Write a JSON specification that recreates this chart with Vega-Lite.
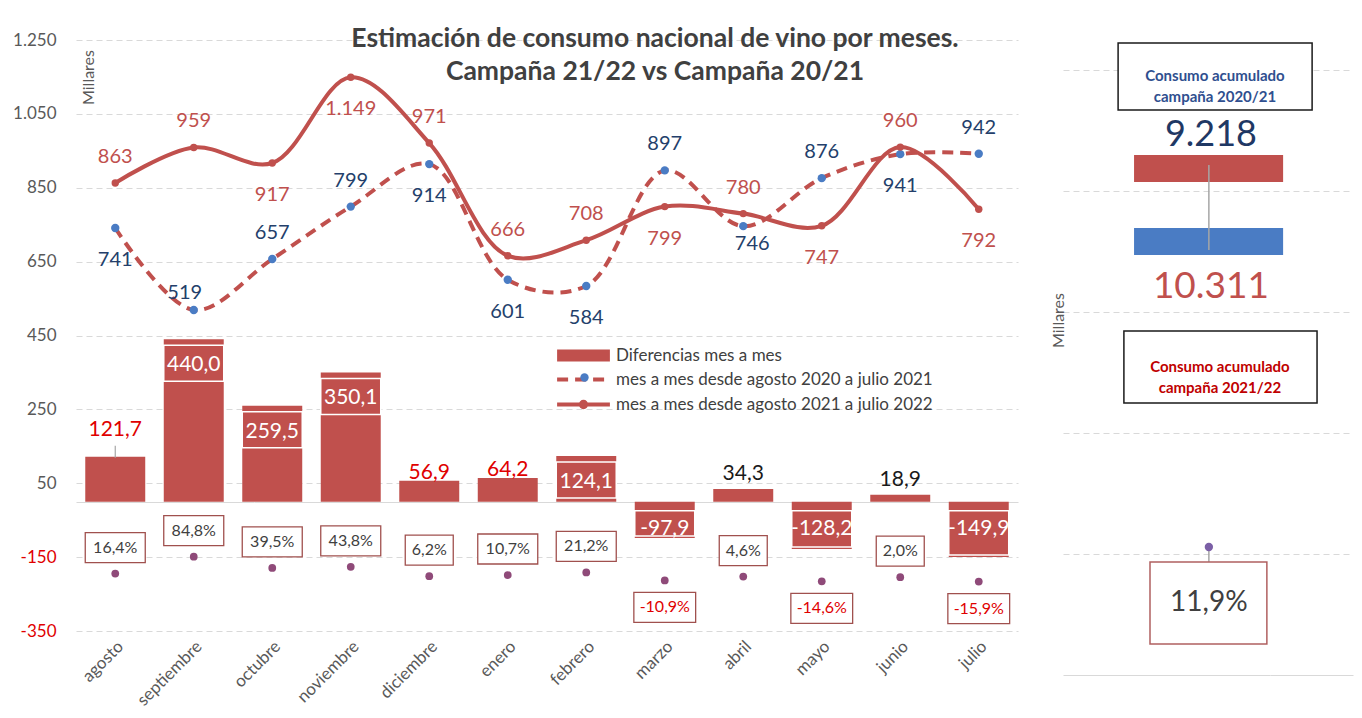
{
  "$schema": "https://vega.github.io/schema/vega-lite/v6.json",
  "background": "white",
  "padding": {"left": 12, "top": 25, "right": 5, "bottom": 5},
  "bounds": "flush",
  "spacing": 45,
  "config": {
    "locale": {"number": {"decimal": ",", "thousands": ".", "grouping": [3], "currency": ["", " €"], "minus": "-"}},
    "font": "Lato",
    "view": {"stroke": null}
  },
  "datasets": {
    "meses": [
      {"mes": "agosto", "c2021": 741, "c2122": 863, "dif": 121.7, "pct": 0.164},
      {"mes": "septiembre", "c2021": 519, "c2122": 959, "dif": 440.0, "pct": 0.848},
      {"mes": "octubre", "c2021": 657, "c2122": 917, "dif": 259.5, "pct": 0.395},
      {"mes": "noviembre", "c2021": 799, "c2122": 1149, "dif": 350.1, "pct": 0.438},
      {"mes": "diciembre", "c2021": 914, "c2122": 971, "dif": 56.9, "pct": 0.062},
      {"mes": "enero", "c2021": 601, "c2122": 666, "dif": 64.2, "pct": 0.107},
      {"mes": "febrero", "c2021": 584, "c2122": 708, "dif": 124.1, "pct": 0.212},
      {"mes": "marzo", "c2021": 897, "c2122": 799, "dif": -97.9, "pct": -0.109},
      {"mes": "abril", "c2021": 746, "c2122": 780, "dif": 34.3, "pct": 0.046},
      {"mes": "mayo", "c2021": 876, "c2122": 747, "dif": -128.2, "pct": -0.146},
      {"mes": "junio", "c2021": 941, "c2122": 960, "dif": 18.9, "pct": 0.020},
      {"mes": "julio", "c2021": 942, "c2122": 792, "dif": -149.9, "pct": -0.159}
    ],
    "totales": [
      {"campana": "2020/21", "total": 9218},
      {"campana": "2021/22", "total": 10311}
    ],
    "variacion": [{"variacion": 0.119}]
  },
  "hconcat": [
    {
      "width": 942,
      "height": 591,
      "title": {
        "text": ["Estimación de consumo nacional de vino por meses.", "Campaña 21/22 vs Campaña 20/21"],
        "font": "Lato", "fontSize": 26.5, "fontWeight": "bold", "color": "#404040",
        "anchor": "middle", "dx": 108, "offset": -54, "lineHeight": 33
      },
      "data": {"name": "meses"},
      "encoding": {
        "x": {
          "field": "mes", "type": "nominal", "sort": null,
          "scale": {"paddingInner": 0.236, "paddingOuter": 0.118},
          "axis": {"title": null, "labelAngle": -45, "labelFontSize": 17, "labelColor": "#595959", "ticks": false, "domain": false, "labelPadding": 7, "grid": false}
        }
      },
      "resolve": {"scale": {"y": "independent"}},
      "layer": [
        {
          "layer": [
            {
              "mark": {"type": "bar", "color": "#c0504d"},
              "encoding": {
                "y": {
                  "field": "dif", "type": "quantitative",
                  "scale": {"domain": [-350, 1250], "nice": false, "zero": false},
                  "axis": {
                    "values": [-350, -150, 0, 50, 250, 450, 650, 850, 1050, 1250],
                    "format": ",d",
                    "labelExpr": "datum.value === 0 ? '' : datum.label",
                    "labelFontSize": 17,
                    "labelColor": {"condition": {"test": "datum.value < 0", "value": "#e00000"}, "value": "#595959"},
                    "labelPadding": 20,
                    "ticks": false, "domain": false,
                    "gridColor": "#d9d9d9",
                    "gridDash": {"condition": {"test": "datum.value === 0", "value": [1, 0]}, "value": [6, 4]},
                    "gridWidth": 1.2,
                    "title": "Millares", "titleFontSize": 16, "titleFontWeight": "normal", "titleColor": "#595959",
                    "titleAngle": -90, "titleX": 12, "titleY": 37, "titleAlign": "center", "titleBaseline": "middle"
                  }
                },
                "color": {
                  "datum": "Diferencias mes a mes",
                  "scale": {"range": ["#c0504d"]},
                  "legend": {
                    "orient": "none", "legendX": 499, "legendY": 307, "title": null, "padding": 0,
                    "symbolSize": 144, "symbolType": "M-4.4,-1H4.4V1H-4.4Z", "symbolStrokeWidth": 0,
                    "labelFontSize": 17, "labelColor": "#404040", "labelOffset": 24, "labelLimit": 400
                  }
                }
              }
            },
            {
              "transform": [{"filter": "indexof(['septiembre','octubre','noviembre','febrero'], datum.mes) >= 0"}],
              "mark": {"type": "bar", "fill": "transparent", "stroke": "white", "strokeWidth": 1.5, "yOffset": 6, "y2Offset": 42},
              "encoding": {
                "y": {"field": "dif", "type": "quantitative"},
                "y2": {"field": "dif"}
              }
            },
            {
              "transform": [{"filter": "datum.dif < 0"}],
              "mark": {"type": "bar", "fill": "transparent", "stroke": "white", "strokeWidth": 1.5, "yOffset": -2, "y2Offset": 9},
              "encoding": {
                "y": {"field": "dif", "type": "quantitative"},
                "y2": {"datum": 0}
              }
            },
            {
              "transform": [{"filter": "datum.mes === 'agosto'"}],
              "mark": {"type": "rule", "color": "#a6a6a6", "strokeWidth": 1.2, "yOffset": -11, "y2Offset": 1},
              "encoding": {
                "y": {"field": "dif", "type": "quantitative"},
                "y2": {"field": "dif"}
              }
            },
            {
              "mark": {"type": "line", "color": "#c0504d", "strokeWidth": 4, "interpolate": "catmull-rom"},
              "encoding": {
                "y": {"field": "c2021", "type": "quantitative"},
                "strokeDash": {
                  "datum": "mes a mes desde agosto 2020 a julio 2021",
                  "scale": {"range": [[11, 7]]},
                  "legend": {
                    "orient": "none", "legendX": 499, "legendY": 331, "title": null, "padding": 0,
                    "symbolSize": 144, "symbolType": "M-4.4,0H4.4", "symbolStrokeColor": "#c0504d", "symbolStrokeWidth": 4,
                    "labelFontSize": 17, "labelColor": "#404040", "labelOffset": 24, "labelLimit": 400
                  }
                }
              }
            },
            {
              "mark": {"type": "point", "filled": true, "color": "#4a7cc4", "size": 70, "opacity": 1},
              "encoding": {
                "y": {"field": "c2021", "type": "quantitative"},
                "shape": {
                  "datum": "marcador 2020/21",
                  "scale": {"range": ["circle"]},
                  "legend": {
                    "orient": "none", "legendX": 504, "legendY": 333, "title": null, "padding": 0,
                    "symbolSize": 70, "symbolFillColor": "#4a7cc4", "symbolStrokeWidth": 0,
                    "labelFontSize": 1, "labelOpacity": 0
                  }
                }
              }
            },
            {
              "mark": {"type": "line", "color": "#c0504d", "strokeWidth": 4, "interpolate": "catmull-rom"},
              "encoding": {
                "y": {"field": "c2122", "type": "quantitative"}
              }
            },
            {
              "mark": {"type": "point", "filled": true, "size": 55, "opacity": 1},
              "encoding": {
                "y": {"field": "c2122", "type": "quantitative"},
                "fill": {
                  "datum": "mes a mes desde agosto 2021 a julio 2022",
                  "scale": {"range": ["#c0504d"]},
                  "legend": {
                    "orient": "none", "legendX": 499, "legendY": 356, "title": null, "padding": 0,
                    "symbolSize": 144, "symbolType": "M-4.4,0H4.4M0.45,0A0.45,0.45 0 1,1 -0.45,0A0.45,0.45 0 1,1 0.45,0",
                    "symbolStrokeColor": "#c0504d", "symbolStrokeWidth": 4,
                    "labelFontSize": 17, "labelColor": "#404040", "labelOffset": 24, "labelLimit": 400
                  }
                }
              }
            },
            {
              "transform": [{"filter": "indexof(['agosto','septiembre','diciembre','enero','febrero','abril','junio'], datum.mes) >= 0"}],
              "mark": {"type": "text", "fontSize": 20, "color": "#c0504d", "dy": -26, "baseline": "middle"},
              "encoding": {
                "y": {"field": "c2122", "type": "quantitative"},
                "text": {"field": "c2122", "type": "quantitative", "format": ",.0f"}
              }
            },
            {
              "transform": [{"filter": "indexof(['octubre','noviembre','marzo','mayo','julio'], datum.mes) >= 0"}],
              "mark": {"type": "text", "fontSize": 20, "color": "#c0504d", "dy": 32, "baseline": "middle"},
              "encoding": {
                "y": {"field": "c2122", "type": "quantitative"},
                "text": {"field": "c2122", "type": "quantitative", "format": ",.0f"}
              }
            },
            {
              "transform": [{"filter": "indexof(['octubre','noviembre','marzo','mayo','julio'], datum.mes) >= 0"}],
              "mark": {"type": "text", "fontSize": 20, "color": "#243f6b", "dy": -26, "baseline": "middle"},
              "encoding": {
                "y": {"field": "c2021", "type": "quantitative"},
                "text": {"field": "c2021", "type": "quantitative", "format": ",.0f"}
              }
            },
            {
              "transform": [{"filter": "datum.mes === 'septiembre'"}],
              "mark": {"type": "text", "fontSize": 20, "color": "#243f6b", "dy": -17, "dx": -9, "baseline": "middle"},
              "encoding": {
                "y": {"field": "c2021", "type": "quantitative"},
                "text": {"field": "c2021", "type": "quantitative", "format": ",.0f"}
              }
            },
            {
              "transform": [{"filter": "indexof(['agosto','diciembre','enero','febrero','junio'], datum.mes) >= 0"}],
              "mark": {"type": "text", "fontSize": 20, "color": "#243f6b", "dy": 32, "baseline": "middle"},
              "encoding": {
                "y": {"field": "c2021", "type": "quantitative"},
                "text": {"field": "c2021", "type": "quantitative", "format": ",.0f"}
              }
            },
            {
              "transform": [{"filter": "datum.mes === 'abril'"}],
              "mark": {"type": "text", "fontSize": 20, "color": "#243f6b", "dy": 18, "dx": 9, "baseline": "middle"},
              "encoding": {
                "y": {"field": "c2021", "type": "quantitative"},
                "text": {"field": "c2021", "type": "quantitative", "format": ",.0f"}
              }
            },
            {
              "transform": [{"filter": "indexof(['septiembre','octubre','noviembre','febrero'], datum.mes) >= 0"}],
              "mark": {"type": "text", "fontSize": 21, "color": "white", "dy": 26, "baseline": "middle"},
              "encoding": {
                "y": {"field": "dif", "type": "quantitative"},
                "text": {"field": "dif", "type": "quantitative", "format": ".1f"}
              }
            },
            {
              "transform": [{"filter": "datum.mes === 'agosto'"}],
              "mark": {"type": "text", "fontSize": 21, "color": "#e00000", "dy": -27, "baseline": "middle"},
              "encoding": {
                "y": {"field": "dif", "type": "quantitative"},
                "text": {"field": "dif", "type": "quantitative", "format": ".1f"}
              }
            },
            {
              "transform": [{"filter": "indexof(['diciembre','enero'], datum.mes) >= 0"}],
              "mark": {"type": "text", "fontSize": 21, "color": "#e00000", "dy": -8, "baseline": "middle"},
              "encoding": {
                "y": {"field": "dif", "type": "quantitative"},
                "text": {"field": "dif", "type": "quantitative", "format": ".1f"}
              }
            },
            {
              "transform": [{"filter": "indexof(['abril','junio'], datum.mes) >= 0"}],
              "mark": {"type": "text", "fontSize": 21, "color": "#1a1a1a", "dy": -15, "baseline": "middle"},
              "encoding": {
                "y": {"field": "dif", "type": "quantitative"},
                "text": {"field": "dif", "type": "quantitative", "format": ".1f"}
              }
            },
            {
              "transform": [{"filter": "datum.dif < 0"}],
              "mark": {"type": "text", "fontSize": 21, "color": "white", "baseline": "middle"},
              "encoding": {
                "y": {"datum": -75, "type": "quantitative"},
                "text": {"field": "dif", "type": "quantitative", "format": ".1f"}
              }
            }
          ]
        },
        {
          "layer": [
            {
              "mark": {"type": "point", "filled": true, "color": "#8f4a79", "size": 60, "opacity": 1},
              "encoding": {
                "y": {"field": "pct", "type": "quantitative", "scale": {"domain": [-2.15, 21.68], "nice": false, "zero": false}, "axis": null}
              }
            },
            {
              "transform": [{"filter": "datum.pct >= 0.1"}],
              "mark": {"type": "point", "filled": true, "fill": "white", "stroke": "#a0504e", "strokeWidth": 1.3, "size": 3600, "opacity": 1, "yOffset": -26, "shape": "M-1,-0.5H1V0.5H-1Z"},
              "encoding": {
                "y": {"field": "pct", "type": "quantitative", "axis": null}
              }
            },
            {
              "transform": [{"filter": "datum.pct >= 0 && datum.pct < 0.1"}],
              "mark": {"type": "point", "filled": true, "fill": "white", "stroke": "#a0504e", "strokeWidth": 1.3, "size": 3600, "opacity": 1, "yOffset": -26, "shape": "M-0.8,-0.5H0.8V0.5H-0.8Z"},
              "encoding": {
                "y": {"field": "pct", "type": "quantitative", "axis": null}
              }
            },
            {
              "transform": [{"filter": "datum.pct < 0"}],
              "mark": {"type": "point", "filled": true, "fill": "white", "stroke": "#a0504e", "strokeWidth": 1.3, "size": 3600, "opacity": 1, "yOffset": 27, "shape": "M-1.03,-0.5H1.03V0.5H-1.03Z"},
              "encoding": {
                "y": {"field": "pct", "type": "quantitative", "axis": null}
              }
            },
            {
              "transform": [{"filter": "datum.pct >= 0"}],
              "mark": {"type": "text", "fontSize": 16, "color": "#404040", "dy": -26, "baseline": "middle"},
              "encoding": {
                "y": {"field": "pct", "type": "quantitative", "axis": null},
                "text": {"field": "pct", "type": "quantitative", "format": ".1%"}
              }
            },
            {
              "transform": [{"filter": "datum.pct < 0"}],
              "mark": {"type": "text", "fontSize": 16, "color": "#e00000", "dy": 27, "baseline": "middle"},
              "encoding": {
                "y": {"field": "pct", "type": "quantitative", "axis": null},
                "text": {"field": "pct", "type": "quantitative", "format": ".1%"}
              }
            }
          ]
        }
      ]
    },
    {
      "width": 290,
      "height": 635,
      "data": {"name": "variacion"},
      "layer": [
        {
          "mark": {"type": "rect", "fill": "white", "stroke": "#1a1a1a", "strokeWidth": 1.5},
          "encoding": {
            "x": {"datum": 0.19, "type": "quantitative", "scale": {"domain": [0, 1], "nice": false, "zero": false}, "axis": null},
            "x2": {"datum": 0.859},
            "y": {
              "datum": 10446, "type": "quantitative",
              "scale": {"domain": [0, 10496], "nice": false, "zero": false},
              "axis": {
                "values": [0, 2000, 4000, 6000, 8000, 10000],
                "grid": true,
                "labels": false, "ticks": false, "domain": false,
                "gridColor": "#d9d9d9",
                "gridDash": {"condition": {"test": "datum.value === 0", "value": [1, 0]}, "value": [6, 4]},
                "gridWidth": 1.2,
                "title": "Millares", "titleFontSize": 16, "titleFontWeight": "normal", "titleColor": "#595959",
                "titleAngle": -90, "titleX": -5, "titleY": 280, "titleAlign": "center", "titleBaseline": "middle"
              }
            },
            "y2": {"datum": 9339}
          }
        },
        {
          "mark": {"type": "text", "text": ["Consumo acumulado", "campaña 2020/21"], "fontSize": 15, "fontWeight": "bold", "color": "#2f4f8f", "lineHeight": 21, "baseline": "middle"},
          "encoding": {
            "x": {"datum": 0.524, "type": "quantitative", "axis": null},
            "y": {"datum": 9893, "type": "quantitative"}
          }
        },
        {
          "data": {"name": "totales"},
          "transform": [{"filter": "datum.campana === '2020/21'"}],
          "mark": {"type": "text", "fontSize": 36, "color": "#1f3864", "baseline": "middle"},
          "encoding": {
            "x": {"datum": 0.51, "type": "quantitative", "axis": null},
            "y": {"datum": 8926, "type": "quantitative"},
            "text": {"field": "total", "type": "quantitative", "format": ",d"}
          }
        },
        {
          "mark": {"type": "rect", "color": "#c0504d"},
          "encoding": {
            "x": {"datum": 0.245, "type": "quantitative", "axis": null},
            "x2": {"datum": 0.759},
            "y": {"datum": 8595, "type": "quantitative"},
            "y2": {"datum": 8149}
          }
        },
        {
          "mark": {"type": "rect", "color": "#4a7cc4"},
          "encoding": {
            "x": {"datum": 0.245, "type": "quantitative", "axis": null},
            "x2": {"datum": 0.759},
            "y": {"datum": 7389, "type": "quantitative"},
            "y2": {"datum": 6942}
          }
        },
        {
          "mark": {"type": "rule", "color": "#a6a6a6", "strokeWidth": 1.5},
          "encoding": {
            "x": {"datum": 0.503, "type": "quantitative", "axis": null},
            "y": {"datum": 8430, "type": "quantitative"},
            "y2": {"datum": 7025}
          }
        },
        {
          "data": {"name": "totales"},
          "transform": [{"filter": "datum.campana === '2021/22'"}],
          "mark": {"type": "text", "fontSize": 37, "color": "#c0504d", "baseline": "middle"},
          "encoding": {
            "x": {"datum": 0.51, "type": "quantitative", "axis": null},
            "y": {"datum": 6413, "type": "quantitative"},
            "text": {"field": "total", "type": "quantitative", "format": ",d"}
          }
        },
        {
          "mark": {"type": "rect", "fill": "white", "stroke": "#1a1a1a", "strokeWidth": 1.5},
          "encoding": {
            "x": {"datum": 0.21, "type": "quantitative", "axis": null},
            "x2": {"datum": 0.876},
            "y": {"datum": 5686, "type": "quantitative"},
            "y2": {"datum": 4496}
          }
        },
        {
          "mark": {"type": "text", "text": ["Consumo acumulado", "campaña 2021/22"], "fontSize": 15, "fontWeight": "bold", "color": "#c00000", "lineHeight": 21, "baseline": "middle"},
          "encoding": {
            "x": {"datum": 0.541, "type": "quantitative", "axis": null},
            "y": {"datum": 5091, "type": "quantitative"}
          }
        },
        {
          "mark": {"type": "rule", "color": "#a6a6a6", "strokeWidth": 1.5},
          "encoding": {
            "x": {"datum": 0.503, "type": "quantitative", "axis": null},
            "y": {"datum": 2116, "type": "quantitative"},
            "y2": {"datum": 1868}
          }
        },
        {
          "mark": {"type": "point", "filled": true, "color": "#7b5fa6", "size": 70, "opacity": 1},
          "encoding": {
            "x": {"datum": 0.503, "type": "quantitative", "axis": null},
            "y": {"datum": 2116, "type": "quantitative"}
          }
        },
        {
          "mark": {"type": "rect", "fill": "white", "stroke": "#b06060", "strokeWidth": 1.5},
          "encoding": {
            "x": {"datum": 0.30, "type": "quantitative", "axis": null},
            "x2": {"datum": 0.703},
            "y": {"datum": 1868, "type": "quantitative"},
            "y2": {"datum": 512}
          }
        },
        {
          "mark": {"type": "text", "fontSize": 28, "color": "#404040", "baseline": "middle"},
          "encoding": {
            "x": {"datum": 0.503, "type": "quantitative", "axis": null},
            "y": {"datum": 1190, "type": "quantitative"},
            "text": {"field": "variacion", "type": "quantitative", "format": ".1%"}
          }
        }
      ]
    }
  ]
}
